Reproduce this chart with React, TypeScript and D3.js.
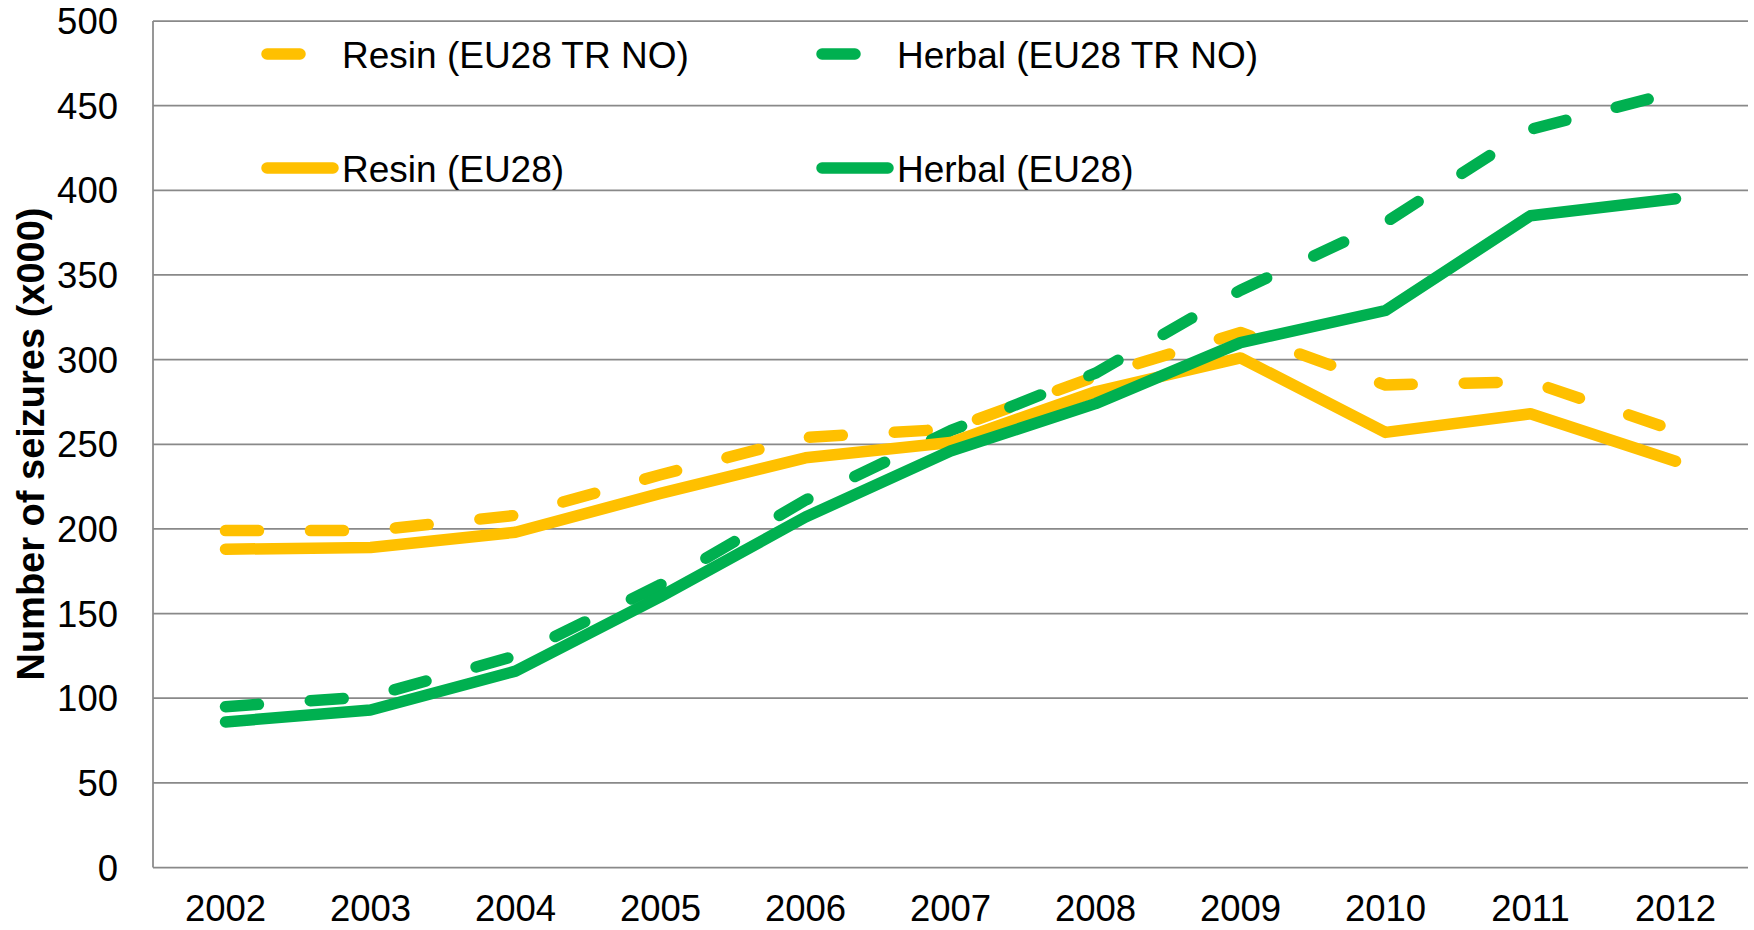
import React, { useEffect, useRef } from "react";
import * as d3 from "d3";

const years = ["2002", "2003", "2004", "2005", "2006", "2007", "2008", "2009", "2010", "2011", "2012"];
const resinTrNo = [199, 199, 208, 232, 254, 259, 290, 316, 285, 287, 258];
const herbalTrNo = [95, 101, 125, 167, 217, 258, 292, 341, 381, 436, 458];
const resinEu28 = [188, 189, 198, 221, 242, 251, 281, 301, 257, 268, 240];
const herbalEu28 = [86, 93, 116, 160, 207, 246, 274, 310, 329, 385, 395];
const yTicks = [0, 50, 100, 150, 200, 250, 300, 350, 400, 450, 500];

const YELLOW = "#FFC000";
const GREEN = "#00B050";
const DASH = "33 52";

const series = [
  { name: "Resin (EU28 TR NO)", values: resinTrNo, color: YELLOW, dashed: true },
  { name: "Herbal (EU28 TR NO)", values: herbalTrNo, color: GREEN, dashed: true },
  { name: "Resin (EU28)", values: resinEu28, color: YELLOW, dashed: false },
  { name: "Herbal (EU28)", values: herbalEu28, color: GREEN, dashed: false },
];

const W = 1754;
const H = 930;
const left = 153;
const right = 1748;
const top = 21;
const bottom = 867.5;
const font = "'Liberation Sans', Arial, sans-serif";

export default function App() {
  const svgRef = useRef<SVGSVGElement | null>(null);

  useEffect(() => {
    const svg = d3.select(svgRef.current);
    svg.selectAll("*").remove();

    const x = d3.scalePoint<string>().domain(years).range([left, right]).padding(0.5);
    const y = d3.scaleLinear().domain([0, 500]).range([bottom, top]);

    // gridlines
    svg
      .append("g")
      .selectAll("line")
      .data(yTicks)
      .enter()
      .append("line")
      .attr("x1", left)
      .attr("x2", right)
      .attr("y1", (d) => y(d))
      .attr("y2", (d) => y(d))
      .attr("stroke", "#898989")
      .attr("stroke-width", 1.75);

    // y axis line
    svg
      .append("line")
      .attr("x1", left)
      .attr("x2", left)
      .attr("y1", top)
      .attr("y2", bottom)
      .attr("stroke", "#898989")
      .attr("stroke-width", 1.75);

    // y tick labels
    svg
      .append("g")
      .selectAll("text")
      .data(yTicks)
      .enter()
      .append("text")
      .attr("x", 118)
      .attr("y", (d) => y(d) + 13)
      .attr("text-anchor", "end")
      .attr("font-family", font)
      .attr("font-size", 36.5)
      .text((d) => d);

    // x labels
    svg
      .append("g")
      .selectAll("text")
      .data(years)
      .enter()
      .append("text")
      .attr("x", (d) => x(d)!)
      .attr("y", 921)
      .attr("text-anchor", "middle")
      .attr("font-family", font)
      .attr("font-size", 36.5)
      .text((d) => d);

    // y title
    svg
      .append("text")
      .attr("transform", `translate(44, 444) rotate(-90)`)
      .attr("text-anchor", "middle")
      .attr("font-family", font)
      .attr("font-size", 38)
      .attr("font-weight", "bold")
      .text("Number of seizures (x000)");

    // lines
    const line = d3
      .line<number>()
      .x((_, i) => x(years[i])!)
      .y((d) => y(d));

    svg
      .append("g")
      .selectAll("path")
      .data(series)
      .enter()
      .append("path")
      .attr("d", (d) => line(d.values))
      .attr("fill", "none")
      .attr("stroke", (d) => d.color)
      .attr("stroke-width", 11.5)
      .attr("stroke-linecap", "round")
      .attr("stroke-linejoin", "round")
      .attr("stroke-dasharray", (d) => (d.dashed ? DASH : null));

    // legend
    const legendX = [267, 822];
    const legendY = [54, 168];
    const leg = svg
      .append("g")
      .selectAll("g")
      .data(series)
      .enter()
      .append("g")
      .attr("transform", (_, i) => `translate(${legendX[i % 2]}, ${legendY[Math.floor(i / 2)]})`);

    leg
      .append("line")
      .attr("x1", 0)
      .attr("x2", 66)
      .attr("stroke", (d) => d.color)
      .attr("stroke-width", 11.5)
      .attr("stroke-linecap", "round")
      .attr("stroke-dasharray", (d) => (d.dashed ? DASH : null));

    leg
      .append("text")
      .attr("x", 75)
      .attr("y", 14)
      .attr("font-family", font)
      .attr("font-size", 37)
      .text((d) => d.name);
  }, []);

  return (
    <svg
      ref={svgRef}
      width={W}
      height={H}
      style={{ position: "absolute", left: 0, top: 0, background: "#fff" }}
    />
  );
}
